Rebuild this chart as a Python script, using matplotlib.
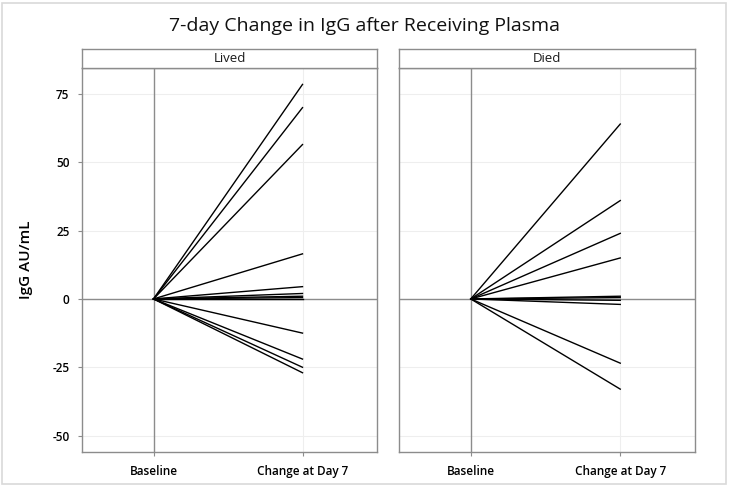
import matplotlib
matplotlib.use("Agg")
import matplotlib.pyplot as plt
from matplotlib.patches import Rectangle

# ---------------------------------------------------------------------------
# Data: change in IgG (AU/mL) from baseline to day 7, one line per patient
# ---------------------------------------------------------------------------
groups = ["Lived", "Died"]
x_labels = ["Baseline", "Change at Day 7"]
lived_change = [78.5, 70.0, 56.5, 16.5, 4.5, 2.0, 1.0, 0.5, 0.0, -12.5, -22.0, -25.0, -27.0]
died_change = [64.0, 36.0, 24.0, 15.0, 1.0, 0.5, -0.5, -2.0, -23.5, -33.0]
y_ticks = [-50, -25, 0, 25, 50, 75]

FONT = ["Open Sans", "DejaVu Sans"]
plt.rcParams["font.family"] = FONT

fig = plt.figure(figsize=(7.29, 4.86), dpi=100)
W, H = 729, 486

# light outer frame
fig.patches.append(Rectangle((2 / W, 2 / H), 724 / W, 481 / H, transform=fig.transFigure,
                             fill=False, edgecolor="#d9d9d9", linewidth=1.2))

fig.text(0.5, 1 - 26 / H, "7-day Change in IgG after Receiving Plasma",
         ha="center", va="center", fontsize=14, fontweight="medium", color="#111111")

panels = [(82, 377), (399, 695)]
top_px, bot_px = 68, 452
strip_top = 49

for i, (name, vals) in enumerate(zip(groups, [lived_change, died_change])):
    x0, x1 = panels[i]
    ax = fig.add_axes([x0 / W, 1 - bot_px / H, (x1 - x0) / W, (bot_px - top_px) / H])
    ax.set_xlim(-0.48, 1.50)
    ax.set_ylim(-56, 84.5)

    # grid + reference lines
    for yt in y_ticks:
        ax.axhline(yt, color="#eeeeee", linewidth=0.8, zorder=0)
    ax.axvline(1, color="#eeeeee", linewidth=0.8, zorder=0)
    ax.axhline(0, color="#8c8c8c", linewidth=1.0, zorder=1)
    ax.axvline(0, color="#8c8c8c", linewidth=1.0, zorder=1)

    for v in vals:
        ax.plot([0, 1], [0, v], color="black", linewidth=1.0, zorder=2)

    ax.set_xticks([0, 1])
    ax.set_xticklabels(x_labels, fontsize=8.5, fontweight="semibold")
    ax.set_yticks(y_ticks)
    ax.tick_params(axis="both", color="#8c8c8c", length=3, width=0.8, pad=6)
    if i == 0:
        ax.set_yticklabels([str(t) for t in y_ticks], fontsize=8.5, fontweight="semibold")
        ax.set_ylabel("IgG AU/mL", fontsize=11, fontweight="semibold", labelpad=14)
    else:
        ax.tick_params(axis="y", length=0, labelleft=False)
    for sp in ax.spines.values():
        sp.set_color("#8c8c8c")
        sp.set_linewidth(1.0)

    # facet strip
    sax = fig.add_axes([x0 / W, 1 - top_px / H, (x1 - x0) / W, (top_px - strip_top) / H])
    sax.set_xticks([])
    sax.set_yticks([])
    for sp in sax.spines.values():
        sp.set_color("#8c8c8c")
        sp.set_linewidth(1.0)
    sax.text(0.5, 0.5, name, ha="center", va="center", fontsize=9.5,
             transform=sax.transAxes, color="#1a1a1a")

fig.savefig("out.png", dpi=100)
